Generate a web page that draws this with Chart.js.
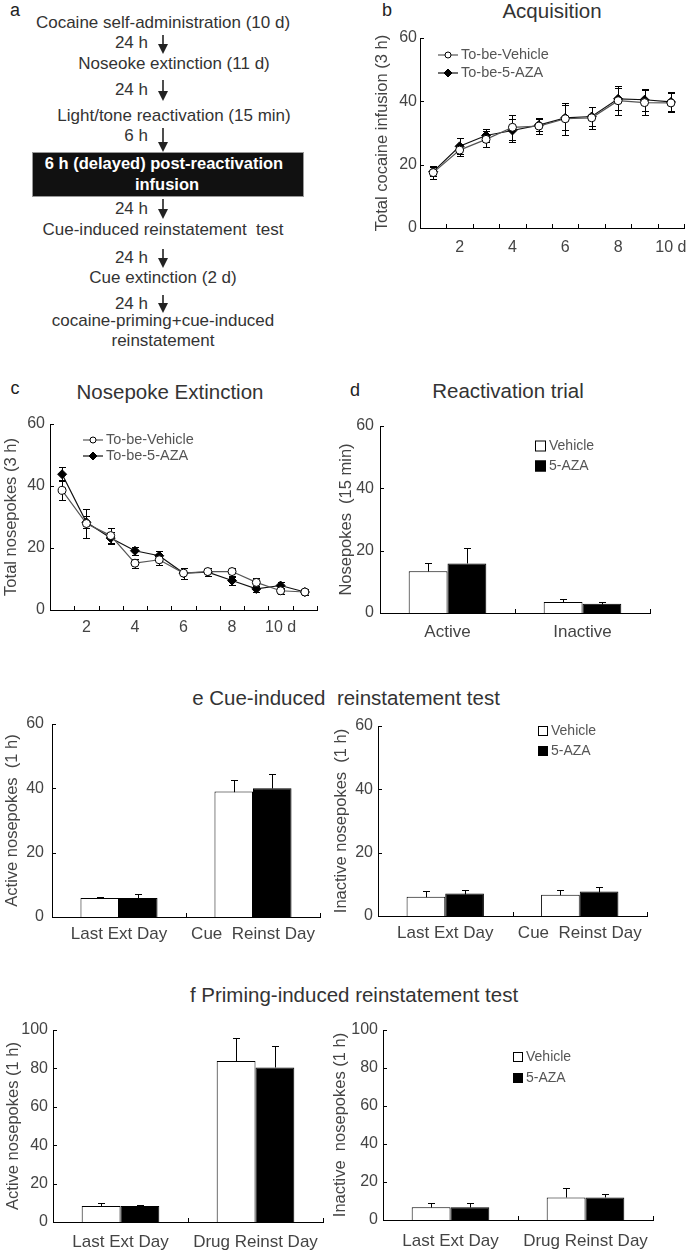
<!DOCTYPE html>
<html><head><meta charset="utf-8">
<script src="https://cdn.jsdelivr.net/npm/chart.js@4"></script>
<style>
body{margin:0;background:#fff;width:697px;height:1252px;position:relative;overflow:hidden;font-family:"Liberation Sans",Arial,sans-serif;color:#333}
.t{position:absolute;white-space:pre;font-size:17px;line-height:1;color:#333}
.c{transform:translate(-50%,-50%)}
.r{transform:translate(-100%,-50%)}
.ttl{font-size:20.5px;color:#333}
.lab{font-size:18px;color:#222}
canvas{position:absolute}
#box{position:absolute;left:32px;top:152px;width:270px;height:43px;background:#111;border:1px solid #999}
.w{color:#fff;font-weight:bold;font-size:16.5px}
</style></head><body>

<!-- panel a flowchart -->
<div class="t c lab" style="left:15px;top:10px">a</div>
<div class="t c" style="left:163px;top:22px">Cocaine self-administration (10 d)</div>
<div class="t r" style="left:148px;top:42px">24 h</div>
<div class="t c" style="left:174px;top:63px">Noseoke extinction (11 d)</div>
<div class="t r" style="left:148px;top:89px">24 h</div>
<div class="t c" style="left:174px;top:115px">Light/tone reactivation (15 min)</div>
<div class="t r" style="left:148px;top:135px">6 h</div>
<div id="box"></div>
<div class="t c w" style="left:164px;top:163px">6 h (delayed) post-reactivation</div>
<div class="t c w" style="left:167px;top:184px">infusion</div>
<div class="t r" style="left:148px;top:208px">24 h</div>
<div class="t c" style="left:163px;top:229px">Cue-induced reinstatement  test</div>
<div class="t r" style="left:148px;top:257px">24 h</div>
<div class="t c" style="left:163px;top:277px">Cue extinction (2 d)</div>
<div class="t r" style="left:148px;top:303px">24 h</div>
<div class="t c" style="left:163px;top:320px">cocaine-priming+cue-induced</div>
<div class="t c" style="left:163px;top:340px">reinstatement</div>
<svg id="arrows" width="340" height="360" style="position:absolute;left:0;top:0"></svg>

<!-- titles -->
<div class="t c lab" style="left:387px;top:10px">b</div>
<div class="t c ttl" style="left:552px;top:11px">Acquisition</div>
<div class="t c lab" style="left:15px;top:388px">c</div>
<div class="t c ttl" style="left:170px;top:392px">Nosepoke Extinction</div>
<div class="t c lab" style="left:355px;top:390px">d</div>
<div class="t c ttl" style="left:508px;top:391px">Reactivation trial</div>
<div class="t c ttl" style="left:346px;top:698px">e Cue-induced  reinstatement test</div>
<div class="t c ttl" style="left:354px;top:995px">f Priming-induced reinstatement test</div>

<canvas id="cb"></canvas>
<canvas id="cc"></canvas>
<canvas id="cd"></canvas>
<canvas id="ce1"></canvas>
<canvas id="ce2"></canvas>
<canvas id="cf1"></canvas>
<canvas id="cf2"></canvas>

<script>
// ---------------- DATA ----------------
const lineSeriesNames = ['To-be-Vehicle', 'To-be-5-AZA'];
const barSeriesNames = ['Vehicle', '5-AZA'];

// b Acquisition (days 1-10)
const acqDays = [1, 2, 3, 4, 5, 6, 7, 8, 9, 10];
const acqVehicle = [17.5, 24.6, 28.0, 31.8, 32.2, 34.5, 34.8, 40.2, 39.6, 39.5];
const acqVehicleErr = [2.0, 2.0, 2.5, 4.0, 2.5, 5.0, 3.5, 4.5, 4.0, 3.0];
const acqAza = [17.8, 25.8, 29.2, 30.8, 32.5, 34.8, 35.2, 40.8, 40.5, 39.8];
const acqAzaErr = [1.5, 2.5, 2.0, 3.5, 2.0, 4.0, 3.0, 3.5, 3.5, 3.0];
const acqTickValues = [2, 4, 6, 8, 10];
const acqTickLabels = ['2', '4', '6', '8', '10 d'];

// c Nosepoke extinction (days 1-11)
const extDays = [1, 2, 3, 4, 5, 6, 7, 8, 9, 10, 11];
const extVehicle = [38.6, 27.9, 24.0, 15.1, 16.2, 11.9, 12.4, 12.4, 8.9, 6.2, 5.8];
const extVehicleErr = [3.2, 4.6, 2.5, 1.5, 1.8, 1.8, 1.3, 1.3, 1.3, 1.0, 1.0];
const extAza = [43.8, 28.3, 23.2, 19.1, 17.5, 11.9, 12.2, 9.5, 6.8, 7.9, 5.8];
const extAzaErr = [2.2, 2.0, 2.0, 1.2, 1.5, 1.8, 1.3, 1.3, 1.0, 1.2, 1.0];
const extTickValues = [2, 4, 6, 8, 10];
const extTickLabels = ['2', '4', '6', '8', '10 d'];

// d Reactivation trial
const reactCats = ['Active', 'Inactive'];
const reactVehicle = [13.4, 3.5];
const reactVehicleErr = [2.5, 1.1];
const reactAza = [15.9, 3.0];
const reactAzaErr = [5.0, 0.4];

// e Cue-induced reinstatement test
const cueCats = ['Last Ext Day', 'Cue  Reinst Day'];
const cueActiveVehicle = [5.9, 39.0];
const cueActiveVehicleErr = [0.4, 3.6];
const cueActiveAza = [5.9, 40.0];
const cueActiveAzaErr = [1.1, 4.5];
const cueInactiveVehicle = [6.1, 6.7];
const cueInactiveVehicleErr = [1.7, 1.6];
const cueInactiveAza = [7.1, 7.7];
const cueInactiveAzaErr = [1.1, 1.5];

// f Priming-induced reinstatement test
const primeCats = ['Last Ext Day', 'Drug Reinst Day'];
const primeActiveVehicle = [8.3, 83.8];
const primeActiveVehicleErr = [1.6, 12.2];
const primeActiveAza = [8.3, 80.5];
const primeActiveAzaErr = [0.7, 11.2];
const primeInactiveVehicle = [6.7, 11.9];
const primeInactiveVehicleErr = [2.4, 5.1];
const primeInactiveAza = [6.7, 11.9];
const primeInactiveAzaErr = [2.4, 1.6];

// ---------------- flowchart arrows ----------------
(function(){
  const svg = document.getElementById('arrows');
  const arrows = [[35,54],[80,101],[128,152],[199,219],[249,268],[295,313]];
  let s = '';
  arrows.forEach(([a,b])=>{
    s += `<line x1="163" y1="${a}" x2="163" y2="${b-6}" stroke="#222" stroke-width="1.6"/>`;
    s += `<polygon points="158,${b-10} 168,${b-10} 163,${b}" fill="#222"/>`;
  });
  svg.innerHTML = s;
})();

// ---------------- plugins ----------------
Chart.defaults.font.family = '"Liberation Sans", Arial, sans-serif';
Chart.defaults.color = '#444';

function drawMarker(ctx, style, x, y, r, fill) {
  ctx.beginPath();
  if (style === 'rectRot') {
    ctx.moveTo(x, y - r); ctx.lineTo(x + r, y); ctx.lineTo(x, y + r); ctx.lineTo(x - r, y); ctx.closePath();
  } else {
    ctx.arc(x, y, r, 0, Math.PI * 2);
  }
  ctx.fillStyle = fill; ctx.fill();
  ctx.strokeStyle = '#000'; ctx.lineWidth = 1; ctx.stroke();
}

const errorBars = {
  id: 'errorBars',
  beforeDatasetsDraw(chart) {
    const ctx = chart.ctx, y = chart.scales.y;
    const two = chart.config.type === 'line';
    ctx.save(); ctx.strokeStyle = '#000'; ctx.lineWidth = 1;
    chart.data.datasets.forEach((ds, i) => {
      if (!ds.errors) return;
      const meta = chart.getDatasetMeta(i);
      meta.data.forEach((el, j) => {
        const raw = ds.data[j];
        const v = typeof raw === 'object' ? raw.y : raw;
        const e = ds.errors[j];
        const px = Math.round(el.x) + 0.5;
        const top = Math.round(y.getPixelForValue(v + e)) + 0.5;
        const bot = Math.round(y.getPixelForValue(two ? v - e : v)) + 0.5;
        const w = 3.5;
        ctx.beginPath();
        ctx.moveTo(px, top); ctx.lineTo(px, bot);
        ctx.moveTo(px - w, top); ctx.lineTo(px + w, top);
        if (two) { ctx.moveTo(px - w, bot); ctx.lineTo(px + w, bot); }
        ctx.stroke();
      });
    });
    ctx.restore();
  }
};

const innerTicks = {
  id: 'innerTicks',
  afterDraw(chart, args, opts) {
    const ctx = chart.ctx, x = chart.scales.x, y = chart.scales.y, len = 4;
    ctx.save(); ctx.strokeStyle = '#000'; ctx.lineWidth = 1; ctx.beginPath();
    y.ticks.forEach(t => {
      const py = Math.round(y.getPixelForValue(t.value)) + 0.5;
      ctx.moveTo(y.right, py); ctx.lineTo(y.right + len, py);
    });
    let xs = [];
    if (x.type === 'category') {
      const n = x.ticks.length;
      for (let i = 1; i <= n; i++) xs.push(x.left + i * x.width / n);
    } else if (opts.marks) {
      xs = opts.marks.map(v => x.getPixelForValue(v));
    }
    xs.forEach(px => {
      px = Math.round(px) + 0.5;
      ctx.moveTo(px, x.top); ctx.lineTo(px, x.top - len);
    });
    ctx.stroke(); ctx.restore();
  }
};

const innerLegend = {
  id: 'innerLegend',
  afterDraw(chart, args, o) {
    if (!o || !o.kind) return;
    const ctx = chart.ctx, a = chart.chartArea;
    ctx.save();
    chart.data.datasets.forEach((ds, i) => {
      const x = a.left + o.x, y = a.top + o.y + i * o.gap;
      let tx;
      if (o.kind === 'box') {
        const b = o.box;
        ctx.fillStyle = ds.backgroundColor; ctx.fillRect(x, y - b / 2, b, b);
        ctx.strokeStyle = '#000'; ctx.lineWidth = 1; ctx.strokeRect(x + 0.5, y - b / 2 + 0.5, b - 1, b - 1);
        tx = x + b + 3;
      } else {
        ctx.strokeStyle = ds.borderColor; ctx.lineWidth = 1.2;
        ctx.beginPath(); ctx.moveTo(x, y); ctx.lineTo(x + 20, y); ctx.stroke();
        drawMarker(ctx, ds.pointStyle, x + 10, y, ds.pointStyle === 'rectRot' ? 4 : 3, ds.pointBackgroundColor);
        tx = x + 23;
      }
      ctx.fillStyle = '#555'; ctx.font = (o.size || 14) + 'px "Liberation Sans", Arial, sans-serif';
      ctx.textBaseline = 'middle'; ctx.textAlign = 'left';
      ctx.fillText(ds.label, tx, y);
    });
    ctx.restore();
  }
};

// ---------------- builders ----------------
function place(id, box) {
  const c = document.getElementById(id);
  c.width = box.w; c.height = box.h;
  c.style.left = box.left + 'px'; c.style.top = box.top + 'px';
  c.style.width = box.w + 'px'; c.style.height = box.h + 'px';
  return c;
}

function build(id, L, type, data, yMax, yTitle, xScale, legend, marks) {
  const c = place(id, L.box);
  return new Chart(c, {
    type, data,
    options: {
      responsive: false, animation: false, devicePixelRatio: 1,
      layout: { padding: { left: 0, top: L.area.t - L.box.top, right: L.box.left + L.box.w - L.area.r, bottom: 0 } },
      plugins: { legend: { display: false }, tooltip: { enabled: false }, innerLegend: legend, innerTicks: { marks } },
      scales: {
        x: Object.assign({
          grid: { display: false, drawTicks: false },
          border: { display: true, color: '#000', width: 1 },
          afterFit(s) { s.height = L.box.top + L.box.h - L.area.b; }
        }, xScale),
        y: {
          type: 'linear', min: 0, max: yMax,
          ticks: { stepSize: 20, color: '#444', font: { size: 16 }, padding: L.yPad },
          grid: { display: false, drawTicks: false },
          border: { display: true, color: '#000', width: 1 },
          title: { display: true, text: yTitle, color: '#444', font: { size: 16.5 }, padding: { top: L.tPad, bottom: 0 } },
          afterFit(s) { s.width = L.area.l - L.box.left; }
        }
      }
    },
    plugins: [errorBars, innerTicks, innerLegend]
  });
}

function lineData(days, veh, vehErr, aza, azaErr) {
  return {
    datasets: [
      { label: lineSeriesNames[0], data: days.map((d, i) => ({ x: d, y: veh[i] })), errors: vehErr,
        borderColor: '#555', borderWidth: 1.2, pointStyle: 'circle', pointRadius: 4,
        pointBackgroundColor: '#fff', pointBorderColor: '#000', pointBorderWidth: 1, tension: 0 },
      { label: lineSeriesNames[1], data: days.map((d, i) => ({ x: d, y: aza[i] })), errors: azaErr,
        borderColor: '#111', borderWidth: 1.2, pointStyle: 'rectRot', pointRadius: 4.5,
        pointBackgroundColor: '#000', pointBorderColor: '#000', pointBorderWidth: 1, tension: 0 }
    ]
  };
}

function barData(cats, veh, vehErr, aza, azaErr) {
  const common = { borderColor: '#000', borderWidth: 1, categoryPercentage: 0.575, barPercentage: 1 };
  return {
    labels: cats,
    datasets: [
      Object.assign({ label: barSeriesNames[0], data: veh, errors: vehErr, backgroundColor: '#fff' }, common),
      Object.assign({ label: barSeriesNames[1], data: aza, errors: azaErr, backgroundColor: '#000' }, common)
    ]
  };
}

function linX(max, vals, texts, pad) {
  return {
    type: 'linear', min: 0.5, max,
    afterBuildTicks(s) { s.ticks = vals.map(v => ({ value: v })); },
    ticks: { color: '#444', font: { size: 16 }, padding: pad, autoSkip: false, maxRotation: 0,
      callback: (v, i) => texts[i] }
  };
}
function catX(pad) {
  return { type: 'category', offset: true,
    ticks: { color: '#444', font: { size: 17 }, padding: pad, autoSkip: false, maxRotation: 0 } };
}
function halfMarks(n) { const m = []; for (let d = 1; d <= n; d++) m.push(d + 0.5); return m; }

// b
build('cb', { box: { left: 370, top: 18, w: 327, h: 246 }, area: { l: 420, t: 38, r: 687, b: 228 }, yPad: 3, tPad: 3 },
  'line', lineData(acqDays, acqVehicle, acqVehicleErr, acqAza, acqAzaErr), 60, 'Total cocaine infusion (3 h)',
  linX(10.5, acqTickValues, acqTickLabels, 10), { kind: 'line', x: 18, y: 17, gap: 18, size: 14.5 }, halfMarks(10));

// c
build('cc', { box: { left: 0, top: 404, w: 340, h: 236 }, area: { l: 50, t: 424, r: 317, b: 610 }, yPad: 5, tPad: 2 },
  'line', lineData(extDays, extVehicle, extVehicleErr, extAza, extAzaErr), 60, 'Total nosepokes (3 h)',
  linX(11.5, extTickValues, extTickLabels, 8), { kind: 'line', x: 33, y: 16, gap: 16, size: 14.5 }, halfMarks(11));

// d
build('cd', { box: { left: 335, top: 404, w: 362, h: 240 }, area: { l: 380, t: 426, r: 650, b: 613 }, yPad: 6, tPad: 2 },
  'bar', barData(reactCats, reactVehicle, reactVehicleErr, reactAza, reactAzaErr), 60, 'Nosepokes  (15 min)',
  catX(9), { kind: 'box', x: 155, y: 20, gap: 20, box: 11, size: 14 });

// e left
build('ce1', { box: { left: 0, top: 704, w: 340, h: 246 }, area: { l: 52, t: 724, r: 320, b: 917 }, yPad: 8, tPad: 3 },
  'bar', barData(cueCats, cueActiveVehicle, cueActiveVehicleErr, cueActiveAza, cueActiveAzaErr), 60, 'Active nosepokes  (1 h)',
  catX(7), null);

// e right
build('ce2', { box: { left: 330, top: 704, w: 367, h: 246 }, area: { l: 378, t: 726, r: 647, b: 916 }, yPad: 5, tPad: 2 },
  'bar', barData(cueCats, cueInactiveVehicle, cueInactiveVehicleErr, cueInactiveAza, cueInactiveAzaErr), 60, 'Inactive nosepokes  (1 h)',
  catX(7), { kind: 'box', x: 160, y: 5, gap: 20, box: 10, size: 14 });

// f left
build('cf1', { box: { left: 0, top: 1010, w: 340, h: 242 }, area: { l: 53, t: 1030, r: 323, b: 1222 }, yPad: 5, tPad: 4 },
  'bar', barData(primeCats, primeActiveVehicle, primeActiveVehicleErr, primeActiveAza, primeActiveAzaErr), 100, 'Active nosepokes (1 h)',
  catX(10), null);

// f right
build('cf2', { box: { left: 330, top: 1010, w: 367, h: 242 }, area: { l: 383, t: 1030, r: 653, b: 1220 }, yPad: 5, tPad: 1 },
  'bar', barData(primeCats, primeInactiveVehicle, primeInactiveVehicleErr, primeInactiveAza, primeInactiveAzaErr), 100, 'Inactive  nosepokes (1 h)',
  catX(11), { kind: 'box', x: 130, y: 27, gap: 21, box: 10, size: 14 });
</script>
</body></html>
